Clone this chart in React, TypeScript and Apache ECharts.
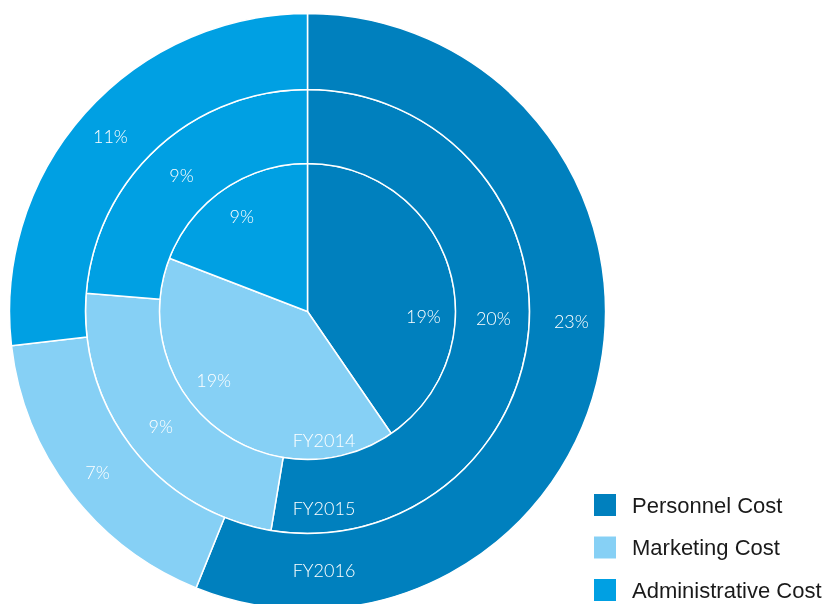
import React, { useEffect, useRef } from 'react';
import * as echarts from 'echarts';

const categories = ['Personnel Cost', 'Marketing Cost', 'Administrative Cost'];
const years = ['FY2014', 'FY2015', 'FY2016'];
const fy2014 = [19, 19, 9];
const fy2015 = [20, 9, 9];
const fy2016 = [23, 7, 11];
const colors = ['#0080BE', '#86D0F5', '#00A0E3'];

const CX = 307.5;
const CY = 311.5;
const RINGS: [number, number][] = [[0, 148], [148, 222], [222, 298]];
const LABEL_R = [116, 186, 264];
// label angle overrides (degrees clockwise from 12 o'clock); null = slice midpoint
const LABEL_ANGLE: (number | null)[][] = [
  [92, 234, null],
  [92, null, null],
  [92, null, null],
];
const NAME_DY = [128, 196, 258];
const LABEL_FONT = "Lato, 'Noto Sans', sans-serif";

export default function App() {
  const ref = useRef<HTMLDivElement>(null);
  useEffect(() => {
    if (!ref.current) return;
    const chart = echarts.init(ref.current, undefined, { renderer: 'svg' });
    const allData = [fy2014, fy2015, fy2016];

    const makeLayout = (ringIdx: number) => (params: any) => {
      const vals = allData[ringIdx];
      const total = vals.reduce((a, b) => a + b, 0);
      let cum = 0;
      for (let i = 0; i < params.dataIndex; i++) cum += vals[i];
      const v = vals[params.dataIndex];
      let ang = ((cum + v / 2) / total) * 360;
      const ov = LABEL_ANGLE[ringIdx][params.dataIndex];
      if (ov != null) ang = ov;
      const rad = (ang * Math.PI) / 180;
      const r = LABEL_R[ringIdx];
      return { x: CX + r * Math.sin(rad), y: CY - r * Math.cos(rad) };
    };

    const series = allData.map((vals, ri) => ({
      type: 'pie',
      name: years[ri],
      center: [CX, CY],
      radius: RINGS[ri],
      startAngle: 90,
      clockwise: true,
      avoidLabelOverlap: false,
      silent: true,
      itemStyle: { borderColor: '#ffffff', borderWidth: 1.5 },
      label: {
        show: true,
        position: 'inside',
        formatter: '{c}%',
        color: '#ffffff',
        fontSize: 18,
        fontWeight: 300,
        fontFamily: LABEL_FONT,
        align: 'center',
        verticalAlign: 'middle',
      },
      labelLine: { show: false },
      labelLayout: makeLayout(ri),
      emphasis: { disabled: true },
      data: categories.map((c, i) => ({ name: c, value: vals[i], itemStyle: { color: colors[i] } })),
    }));

    chart.setOption({
      animation: false,
      color: colors,
      legend: {
        orient: 'vertical',
        left: 592,
        top: 492,
        height: 140,
        padding: 0,
        itemWidth: 24,
        itemHeight: 24,
        itemGap: 16.5,
        icon: 'rect',
        selectedMode: false,
        data: categories,
        textStyle: {
          fontSize: 22,
          lineHeight: 22,
          color: '#1a1a1a',
          fontFamily: "'Liberation Sans', Arial, sans-serif",
          padding: [0, 0, 0, 10],
        },
      },
      graphic: years.map((y, i) => ({
        type: 'text',
        x: CX + 16.5,
        y: CY + NAME_DY[i],
        z: 100,
        silent: true,
        style: {
          text: y,
          fill: '#ffffff',
          fontSize: 18,
          fontWeight: 300,
          fontFamily: LABEL_FONT,
          align: 'center',
          verticalAlign: 'middle',
        },
      })),
      series,
    });
    return () => chart.dispose();
  }, []);
  return (
    <div
      ref={ref}
      style={{ position: 'fixed', left: 0, top: 0, width: 825, height: 604 }}
    />
  );
}
